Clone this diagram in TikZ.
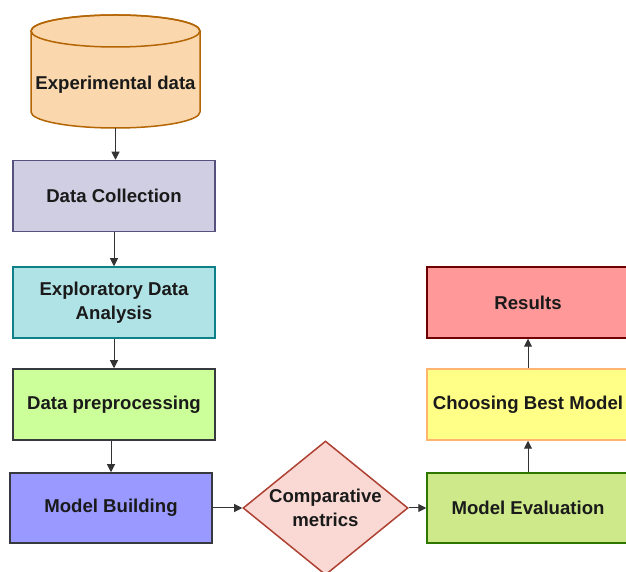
\documentclass[tikz,border=0pt]{standalone}
\usepackage{fontspec}
\setmainfont{Liberation Sans}
\usetikzlibrary{arrows.meta,shapes.geometric}
\definecolor{cylfill}{HTML}{FAD7AC}
\definecolor{cyldraw}{HTML}{B46504}
\definecolor{dcfill}{HTML}{D0CEE2}
\definecolor{dcdraw}{HTML}{56517E}
\definecolor{edafill}{HTML}{B0E3E6}
\definecolor{edadraw}{HTML}{0E8088}
\definecolor{dpfill}{HTML}{CCFF99}
\definecolor{dpdraw}{HTML}{36393D}
\definecolor{mbfill}{HTML}{9999FF}
\definecolor{mbdraw}{HTML}{36393D}
\definecolor{cmfill}{HTML}{FAD9D5}
\definecolor{cmdraw}{HTML}{AE4132}
\definecolor{mefill}{HTML}{CDE98A}
\definecolor{medraw}{HTML}{2D7600}
\definecolor{cbfill}{HTML}{FFFF88}
\definecolor{cbdraw}{HTML}{FFB570}
\definecolor{rsfill}{HTML}{FF9999}
\definecolor{rsdraw}{HTML}{6F0000}
\definecolor{txt}{HTML}{1A1A1A}
\definecolor{arr}{HTML}{333333}
\begin{document}
\begin{tikzpicture}[x=1pt,y=1pt,
  lbl/.style={font=\fontsize{18.6}{23.5}\selectfont\bfseries, text=txt, align=center},
  box/.style={lbl, rectangle, line width=1.5pt, minimum width=202pt, minimum height=71pt, inner sep=0pt},
  conn/.style={draw=arr, line width=1pt, -{Triangle[length=8pt,width=8pt]}}
]
\useasboundingbox (0,0) rectangle (626,572);
\fill[white] (0,0) rectangle (626,572);
% cylinder
\path[fill=cylfill, draw=cyldraw, line width=1.5pt]
  (31,541) -- (31,460) arc[start angle=180, end angle=360, x radius=84.5, y radius=16]
  -- (200,541) arc[start angle=0, end angle=180, x radius=84.5, y radius=16] -- cycle;
\draw[cyldraw, line width=1.5pt] (115.5,541) ellipse [x radius=84.5, y radius=16];
\node[lbl] (exp) at (115.5,487) {Experimental data};
\coordinate (expb) at (115.5,444);
% left column
\node[box, fill=dcfill, draw=dcdraw] (dc) at (114,376) {Data Collection};
\node[box, fill=edafill, draw=edadraw] (eda) at (114,269.5) {Exploratory Data\\Analysis};
\node[box, fill=dpfill, draw=dpdraw] (dp) at (114,167.5) {Data preprocessing};
\node[box, fill=mbfill, draw=mbdraw, minimum height=70pt] (mb) at (111,64) {Model Building};
% diamond
\node[lbl, diamond, aspect=1.23, fill=cmfill, draw=cmdraw, line width=1.5pt, minimum width=165pt, minimum height=134pt, inner sep=0pt] (cm) at (325.5,64) {Comparative\\metrics};
% right column
\node[box, fill=mefill, draw=medraw, minimum height=70pt] (me) at (528,64) {Model Evaluation};
\node[box, fill=cbfill, draw=cbdraw] (cb) at (528,167.5) {Choosing Best Model};
\node[box, fill=rsfill, draw=rsdraw] (rs) at (528,269.5) {Results};
% connectors
\draw[conn] (expb) -- (dc.north -| expb);
\draw[conn] (dc) -- (eda);
\draw[conn] (eda) -- (dp);
\draw[conn] (dp.south -| mb.north) -- (mb.north);
\draw[conn] (mb) -- (cm);
\draw[conn] (cm) -- (me);
\draw[conn] (me) -- (cb);
\draw[conn] (cb) -- (rs);
\end{tikzpicture}
\end{document}
